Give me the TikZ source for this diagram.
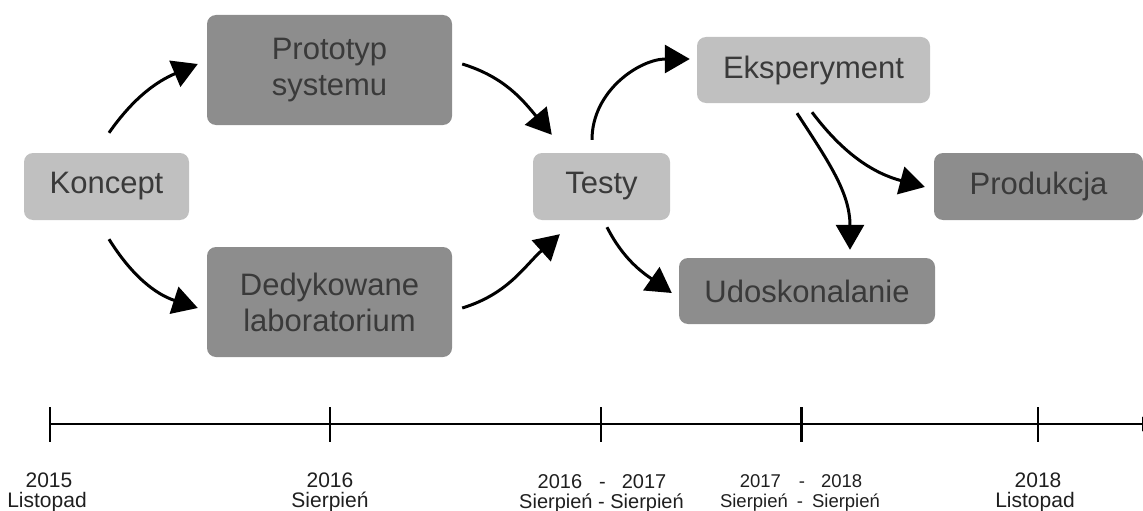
\documentclass[tikz,border=0pt]{standalone}
\usepackage{fontspec}
\setmainfont{Liberation Sans}
\usetikzlibrary{arrows.meta,calc}
\definecolor{boxlight}{RGB}{192,192,192}
\definecolor{boxdark}{RGB}{141,141,141}
\definecolor{boxtext}{RGB}{58,58,58}
\tikzset{
  box/.style={rounded corners=9pt, inner sep=0pt, align=center, text=boxtext,
    font=\fontsize{31}{36}\selectfont},
  lightbox/.style={box, fill=boxlight},
  darkbox/.style={box, fill=boxdark},
  arr/.style={line width=3pt, -{Triangle[length=25pt,width=28pt]}},
  tl/.style={line width=2.7pt},
  lab/.style={anchor=base, inner sep=0pt, text=black!88, font=\fontsize{21}{24}\selectfont},
  labs/.style={anchor=base, inner sep=0pt, text=black!88, font=\fontsize{18.5}{22}\selectfont},
}
\begin{document}
\begin{tikzpicture}[x=1pt,y=1pt]
\useasboundingbox (0,0) rectangle (1143,-511);
% boxes
\node[lightbox, minimum width=165pt, minimum height=67pt] (koncept) at (106.5,-186.5) {Koncept};
\node[darkbox, minimum width=245pt, minimum height=110pt] (proto) at (329.5,-70) {Prototyp\\systemu};
\node[darkbox, minimum width=245pt, minimum height=110pt] (dedyk) at (329.5,-302) {Dedykowane\\laboratorium};
\node[lightbox, minimum width=137pt, minimum height=67pt] (testy) at (601.5,-186.5) {Testy};
\node[lightbox, minimum width=233pt, minimum height=66pt] (eksp) at (813.5,-70) {Eksperyment};
\node[darkbox, minimum width=209pt, minimum height=67pt] (prod) at (1038.5,-186.5) {Produkcja};
\node[darkbox, minimum width=256pt, minimum height=66pt] (udosk) at (807,-291) {Udoskonalanie};
% connectors
\draw[arr] ([xshift=2.5pt,yshift=20pt]koncept.north) to[out=55,in=203] ([xshift=-9pt,yshift=6pt]proto.west);
\draw[arr] ([xshift=2.5pt,yshift=-19pt]koncept.south) to[out=-58,in=162] ([xshift=-9pt,yshift=-6pt]dedyk.west);
\draw[arr] ([xshift=10pt,yshift=6pt]proto.east) to[out=-17,in=130] ([xshift=19pt,yshift=18pt]testy.north west);
\draw[arr] ([xshift=10pt,yshift=-6pt]dedyk.east) to[out=17,in=222] ([xshift=27pt,yshift=-14pt]testy.south west);
\draw[arr] ([xshift=-9.5pt,yshift=13pt]testy.north) to[out=90,in=180] ([xshift=-7pt,yshift=11pt]eksp.west);
\draw[arr] ([xshift=5.5pt,yshift=-7pt]testy.south) to[out=-63,in=145] ([xshift=-7pt,yshift=-2pt]udosk.west);
\draw[arr] ([xshift=-16.5pt,yshift=-10pt]eksp.south) to[out=-57,in=90] ([xshift=43pt,yshift=8pt]udosk.north);
\draw[arr] ([xshift=-1.5pt,yshift=-9pt]eksp.south) to[out=-53,in=165] ([xshift=-9pt,yshift=-0.5pt]prod.west);
% timeline
\coordinate (tstart) at (50,-424);
\coordinate (tend) at (1156,-424);
\draw[tl, -{Triangle[length=14pt,width=14pt]}] (tstart) -- (tend);
\foreach \x in {50,330,601,801.5,1038}{
  \draw[tl] (\x,-407) -- (\x,-442);
}
% labels
\node[lab] (l1a) at (49,-487) {2015};
\node[lab] (l1b) at (47,-507.5) {Listopad};
\node[lab] (l2a) at (330,-487) {2016};
\node[lab] (l2b) at (330,-507.5) {Sierpień};
\node[lab, font=\fontsize{20}{24}\selectfont] (l3a) at (602,-488) {2016\hspace{17pt}-\hspace{16pt}2017};
\node[lab, font=\fontsize{20}{24}\selectfont] (l3b) at (601.5,-508.5) {Sierpień - Sierpień};
\node[labs] (l4a) at (801,-487) {2017\hspace{18pt}-\hspace{16pt}2018};
\node[labs] (l4b) at (800,-507.5) {Sierpień\hspace{9pt}-\hspace{9pt}Sierpień};
\node[lab] (l5a) at (1038,-487) {2018};
\node[lab] (l5b) at (1035,-507.5) {Listopad};
\end{tikzpicture}
\end{document}
